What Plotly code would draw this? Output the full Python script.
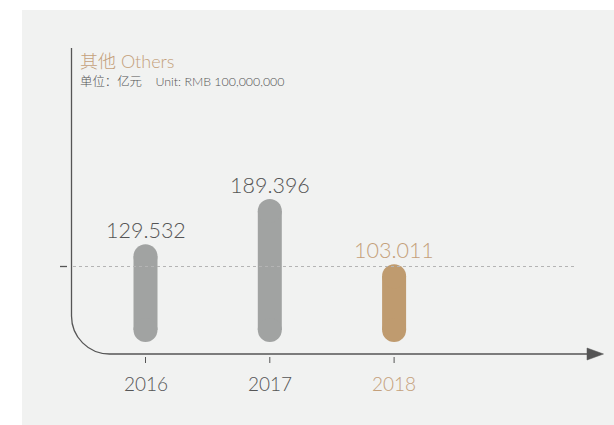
import plotly.graph_objects as go

# ---- data ----
years = ["2016", "2017", "2018"]
values = [129.532, 189.396, 103.011]
highlight = [False, False, True]
ref_level = 100
title_text = "其他 Others"
unit_text = "单位：亿元    Unit: RMB 100,000,000"

# ---- look ----
W, H = 614, 425
PANEL = "#f1f2f1"
GREY = "#a1a3a2"
TAN = "#bf9b6f"
TAN_TEXT = "#c4a07a"
TEXT = "#555555"
AXIS = "#555555"
NUM_FONT = "Lato"
CJK_FONT = "Noto Sans CJK SC"

# pixel layout of the plotting frame
X0_PX, STEP_PX = 145.5, 124.3       # first category centre, category spacing
ZERO_PX, PX_PER_UNIT = 342, 0.755   # baseline row, vertical scale
BAR_PX = 24

x_idx = list(range(len(years)))
x_range = [-X0_PX / STEP_PX, (W - X0_PX) / STEP_PX]
y_range = [(ZERO_PX - H) / PX_PER_UNIT, ZERO_PX / PX_PER_UNIT]
cap = (BAR_PX / 2) / PX_PER_UNIT    # data height of one rounded end


def px(x, y):
    """pixel -> paper coordinates (plot area fills the page)"""
    return x / W, 1 - y / H


fig = go.Figure()

# pill-shaped bars: a thick stroke between two round ends
for i, (v, h) in enumerate(zip(values, highlight)):
    col = TAN if h else GREY
    fig.add_trace(go.Scatter(
        x=[i, i], y=[cap, v - cap], mode="lines+markers",
        line=dict(color=col, width=BAR_PX),
        marker=dict(symbol="circle", size=BAR_PX, color=col, line=dict(width=0)),
        hoverinfo="skip",
    ))

shapes = []
# panel
(px0, py0), (px1, py1) = px(22, 10), px(W, H)
shapes.append(dict(type="rect", xref="paper", yref="paper", x0=px0, x1=px1, y0=py1, y1=py0,
                   fillcolor=PANEL, line=dict(width=0), layer="below"))

# axis frame with rounded corner
ax_x, ax_top, ax_y, r = 71.5, 48, 354, 38
k = 0.5523 * r
pts = [(ax_x, ax_top), (ax_x, ax_y - r), (ax_x, ax_y - r + k), (ax_x + r - k, ax_y),
       (ax_x + r, ax_y), (588, ax_y)]
p = [px(*q) for q in pts]
d = (f"M {p[0][0]} {p[0][1]} L {p[1][0]} {p[1][1]} "
     f"C {p[2][0]} {p[2][1]}, {p[3][0]} {p[3][1]}, {p[4][0]} {p[4][1]} "
     f"L {p[5][0]} {p[5][1]}")
shapes.append(dict(type="path", xref="paper", yref="paper", path=d,
                   line=dict(color=AXIS, width=1.3)))
# arrow head
a = [px(587, 348), px(603.5, 354), px(587, 360)]
shapes.append(dict(type="path", xref="paper", yref="paper",
                   path=f"M {a[0][0]} {a[0][1]} L {a[1][0]} {a[1][1]} L {a[2][0]} {a[2][1]} Z",
                   fillcolor=AXIS, line=dict(color=AXIS, width=0.5)))

# reference level: dotted guide and small tick
shapes.append(dict(type="line", xref="paper", yref="y", x0=73 / W, x1=576 / W,
                   y0=ref_level, y1=ref_level, line=dict(color="#b4b4b4", width=1, dash="dot")))
shapes.append(dict(type="line", xref="paper", yref="y", x0=60 / W, x1=67 / W,
                   y0=ref_level, y1=ref_level, line=dict(color=AXIS, width=1.3)))

# category ticks under the axis
for i in x_idx:
    shapes.append(dict(type="line", xref="x", yref="paper", x0=i, x1=i,
                       y0=px(0, 357)[1], y1=px(0, 363)[1],
                       line=dict(color=AXIS, width=1)))

annotations = []
for i, (yr, v, h) in enumerate(zip(years, values, highlight)):
    col = TAN_TEXT if h else TEXT
    annotations.append(dict(x=i, y=v, xref="x", yref="y", text=f"{v:.3f}",
                            showarrow=False, yanchor="middle", yshift=14,
                            font=dict(family=NUM_FONT, size=21.5, color=col, weight=300)))
    annotations.append(dict(x=i, y=px(0, 383)[1], xref="x", yref="paper", text=yr,
                            showarrow=False, yanchor="middle",
                            font=dict(family=NUM_FONT, size=19, color=col, weight=300)))

annotations.append(dict(x=78 / W, y=px(0, 61)[1], xref="paper", yref="paper",
                        text=title_text, showarrow=False, xanchor="left", yanchor="middle",
                        font=dict(family=f"{NUM_FONT}, {CJK_FONT}", size=18, color=TAN_TEXT, weight=300)))
annotations.append(dict(x=78 / W, y=px(0, 82)[1], xref="paper", yref="paper",
                        text=unit_text, showarrow=False, xanchor="left", yanchor="middle",
                        font=dict(family=f"{NUM_FONT}, {CJK_FONT}", size=12.4, color=TEXT, weight=300)))

fig.update_layout(
    width=W, height=H, margin=dict(l=0, r=0, t=0, b=0),
    paper_bgcolor="white", plot_bgcolor="rgba(0,0,0,0)",
    showlegend=False,
    xaxis=dict(range=x_range, visible=False, fixedrange=True),
    yaxis=dict(range=y_range, visible=False, fixedrange=True),
    shapes=shapes, annotations=annotations,
)

fig.write_html("out.html")
